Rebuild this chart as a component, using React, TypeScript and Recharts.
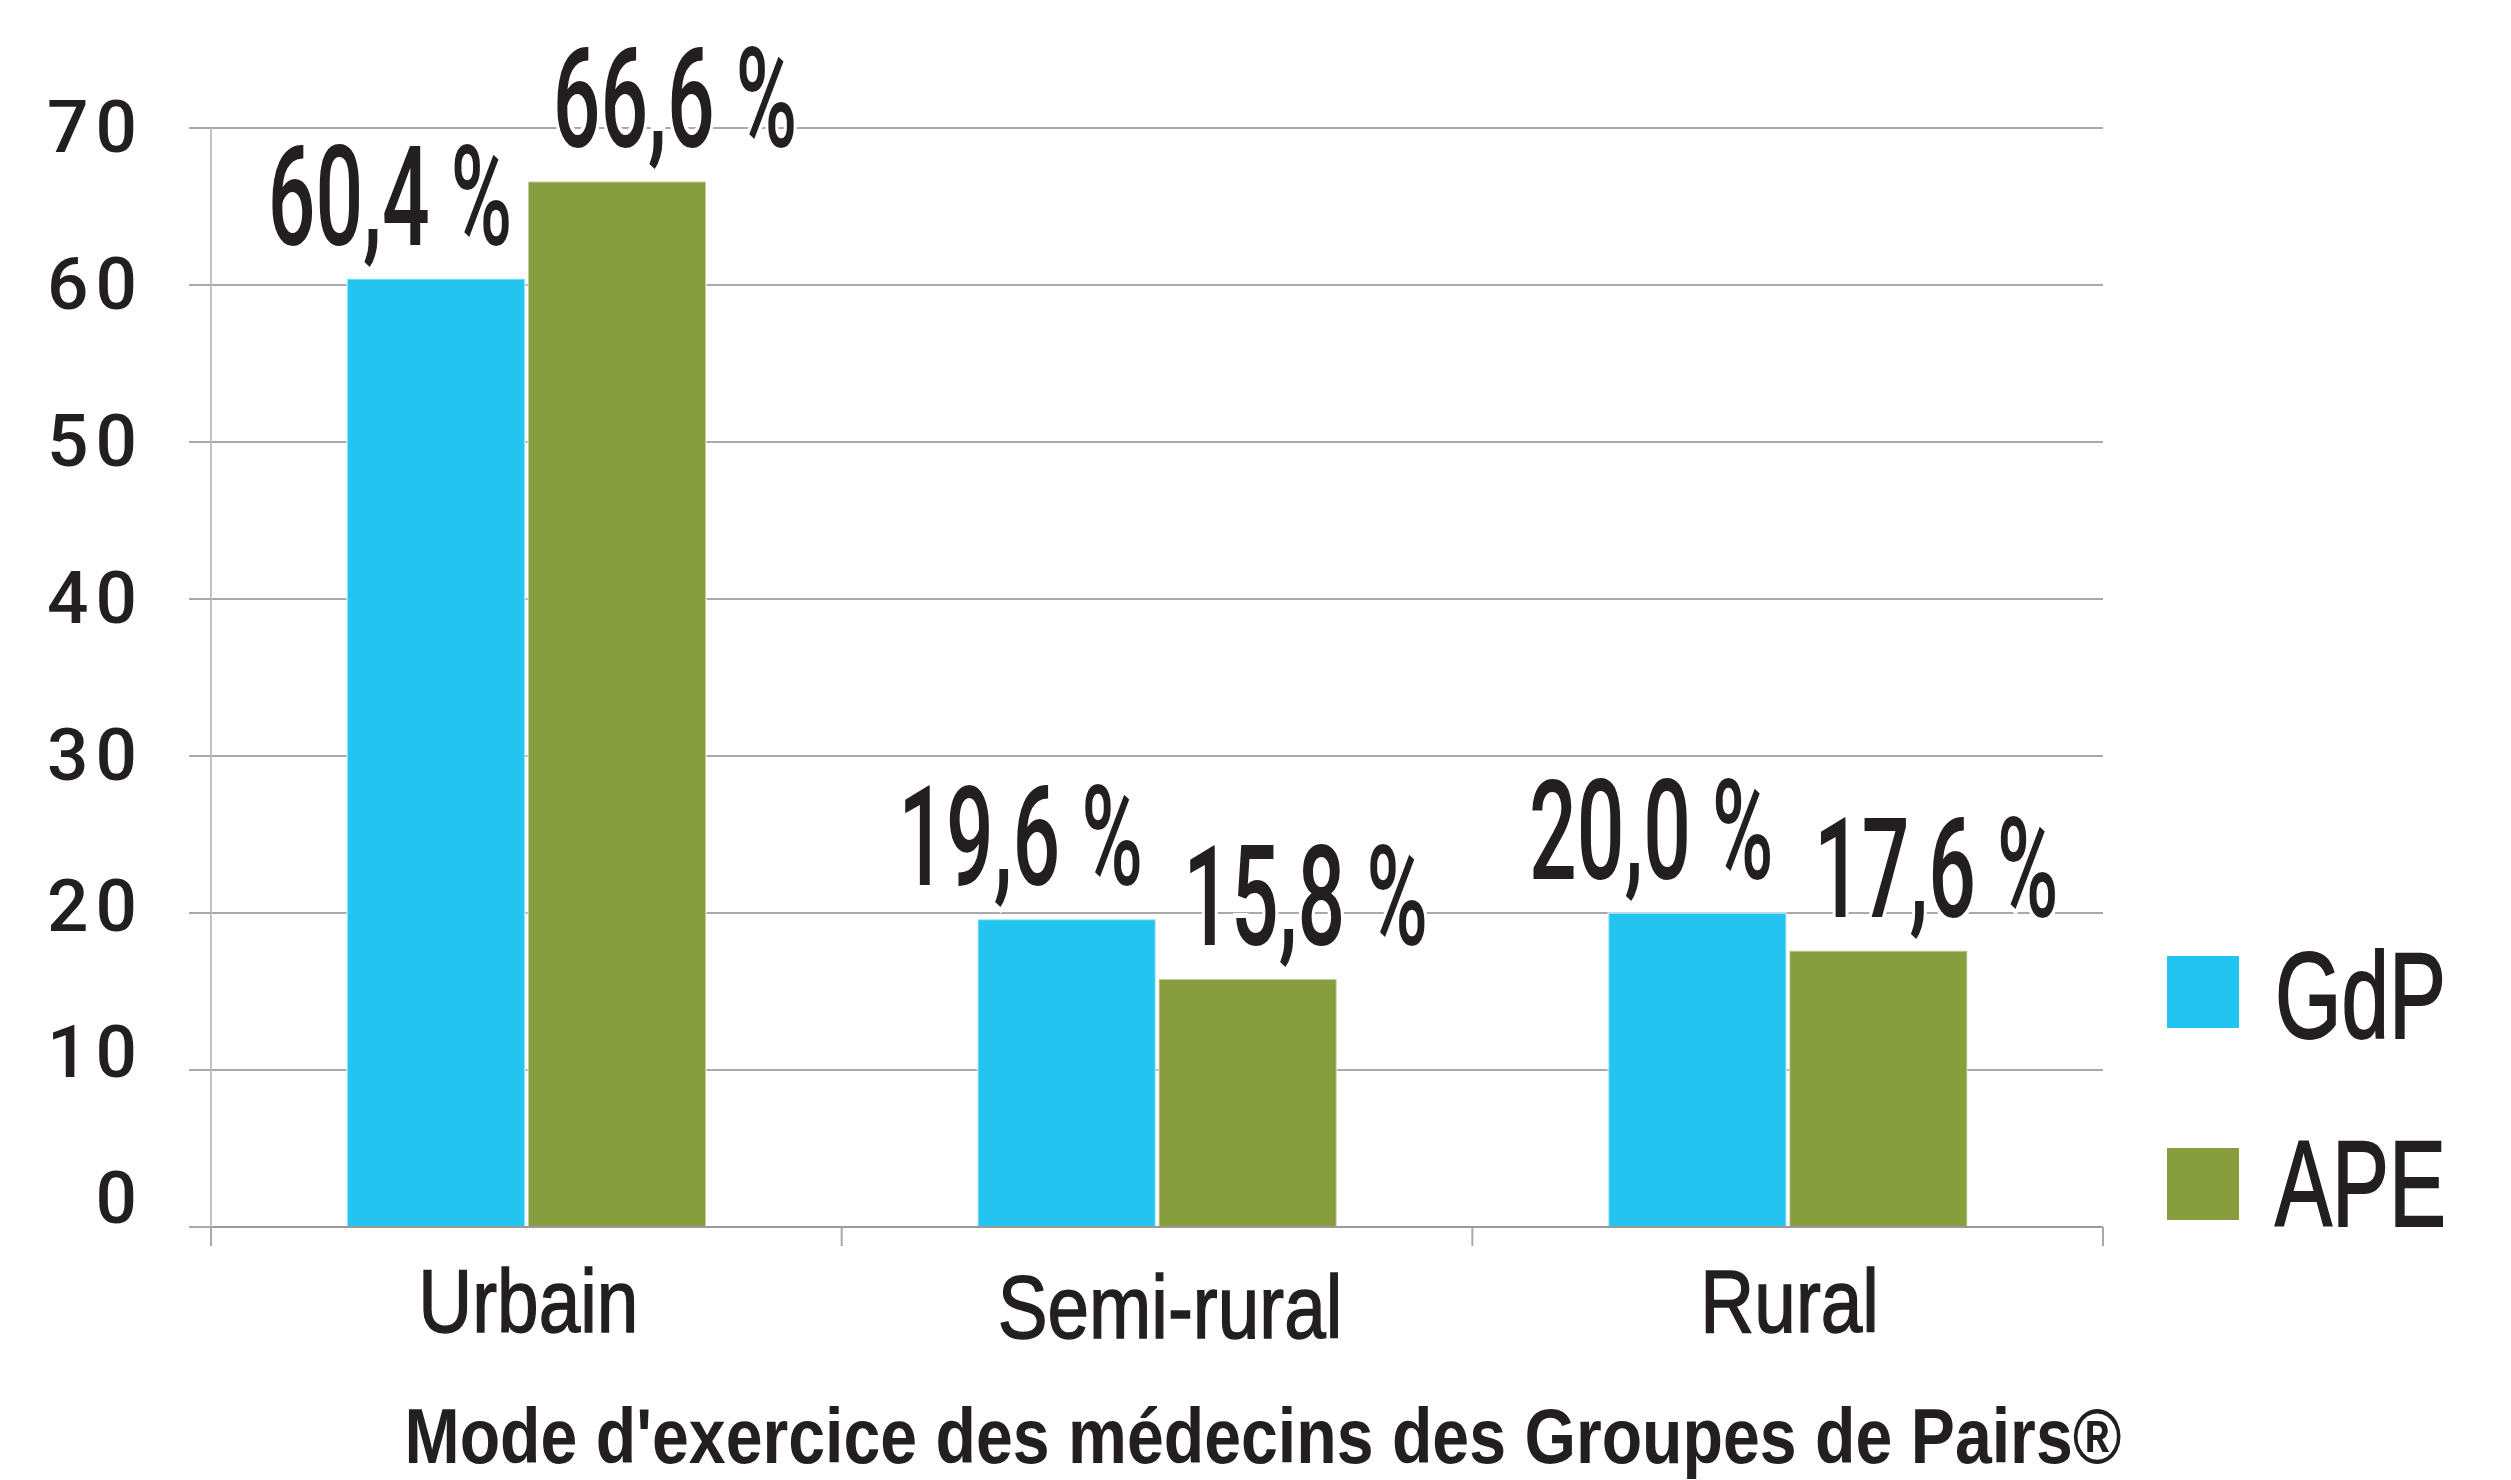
import React from 'react';
import { BarChart, Bar, XAxis, YAxis, CartesianGrid, Legend, LabelList, Label } from 'recharts';

const categories = ['Urbain', 'Semi-rural', 'Rural'];
const gdpValues = [60.4, 19.6, 20.0];
const apeValues = [66.6, 15.8, 17.6];
const yTicks = [0, 10, 20, 30, 40, 50, 60, 70];
const seriesNames = ['GdP', 'APE'];
const title = "Mode d'exercice des médecins des Groupes de Pairs®";

const data = categories.map((mode, i) => ({ mode, gdp: gdpValues[i], ape: apeValues[i] }));

// layout, in page pixels
const W = 2511;
const H = 1480;
const PLOT_LEFT = 211;
const PLOT_RIGHT = 2103;
const PLOT_TOP = 128;
const PLOT_BOTTOM = 1227;
const Y_AXIS_W = 150;
const X_AXIS_H = 200;
const BAND = (PLOT_RIGHT - PLOT_LEFT) / categories.length;

const INK = '#231f20';
const CYAN = '#23c4f0';
const GREEN = '#879d3e';
const GRID = '#a9a9a9';
const SANS = "'Liberation Sans', Arial, sans-serif";

const fmt = (v: number) => v.toFixed(1).replace('.', ',') + ' %';

// the original uses a very condensed face, so the labels are squeezed horizontally
const valueLabel = (shift: number) => (props: any) => {
  const { x, y, width, value } = props;
  const cx = Number(x) + Number(width) / 2 + shift;
  const by = Number(y) - 34;
  return (
    <text
      x={0}
      y={0}
      transform={`translate(${cx},${by}) scale(0.6,1)`}
      textAnchor="middle"
      fontFamily="Roboto, sans-serif"
      fontWeight={500}
      fontSize={140}
      fill={INK}
      stroke="#fff"
      strokeWidth={10}
      paintOrder="stroke"
    >
      {fmt(Number(value))}
    </text>
  );
};

// the lower tick labels sit a little above their gridlines in the original
const tickNudge: Record<number, number> = { 0: -30, 10: -19, 20: -8 };

const YTick = (props: any) => {
  const { x, y, payload } = props;
  const nudge = tickNudge[payload.value] ?? -2;
  return (
    <text x={x} y={y + nudge} dy="0.36em" textAnchor="end" fontFamily="Roboto, sans-serif" fontWeight={500} fontSize={73} fill={INK} letterSpacing={7}>
      {payload.value}
    </text>
  );
};

const XTick = (props: any) => {
  const { x, y, payload, index } = props;
  const left = x - BAND / 2;
  const right = x + BAND / 2;
  const ty = y + (index === 1 ? 111 : 105);
  const tx = x + (index === 1 ? 13 : 2);
  return (
    <g>
      <line x1={left} y1={y} x2={left} y2={y + 19} stroke={GRID} strokeWidth={2} />
      {index === categories.length - 1 && <line x1={right} y1={y} x2={right} y2={y + 19} stroke={GRID} strokeWidth={2} />}
      <text x={0} y={0} transform={`translate(${tx},${ty}) scale(0.84,1)`} textAnchor="middle" fontFamily={SANS} fontSize={89} fill={INK} stroke={INK} strokeWidth={1.5}>
        {payload.value}
      </text>
    </g>
  );
};

const LegendBox = (props: any) => {
  const items = [...(props.payload || [])].sort(
    (a: any, b: any) => seriesNames.indexOf(a.value) - seriesNames.indexOf(b.value)
  );
  return (
    <svg width={371} height={320}>
      {items.map((it: any, i: number) => (
        <g key={it.value}>
          <rect x={27} y={26 + i * 192} width={72} height={72} fill={it.color} />
          <text x={0} y={0} transform={`translate(135,${108 + i * 188}) scale(0.695,1)`} fontFamily={SANS} fontSize={123} fill={INK} stroke={INK} strokeWidth={2}>
            {it.value}
          </text>
        </g>
      ))}
    </svg>
  );
};

const TitleLabel = (props: any) => {
  const vb = props.viewBox;
  return (
    <text
      x={vb.x + vb.width / 2 + 106}
      y={vb.y + 236}
      textAnchor="middle"
      fontFamily={SANS}
      fontWeight="bold"
      fontSize={78}
      fill={INK}
      textLength={1717}
      lengthAdjust="spacingAndGlyphs"
    >
      {title}
    </text>
  );
};

export default function App() {
  return (
    <div style={{ width: W, height: H, background: '#fff' }}>
      <style>{'body{margin:0}'}</style>
      <BarChart
        width={W}
        height={H}
        data={data}
        margin={{ top: PLOT_TOP, right: W - PLOT_RIGHT, left: PLOT_LEFT - Y_AXIS_W, bottom: H - PLOT_BOTTOM - X_AXIS_H }}
        barSize={178}
        barGap={3}
      >
        <CartesianGrid vertical={false} stroke={GRID} strokeWidth={2} />
        <XAxis
          dataKey="mode"
          height={X_AXIS_H}
          tickLine={false}
          tickSize={0}
          tickMargin={0}
          axisLine={{ stroke: '#9a9a9a', strokeWidth: 2 }}
          tick={<XTick />}
          interval={0}
        >
          <Label content={<TitleLabel />} />
        </XAxis>
        <YAxis
          width={Y_AXIS_W}
          domain={[0, 70]}
          ticks={yTicks}
          interval={0}
          tickSize={22}
          tickMargin={45}
          tickLine={{ stroke: GRID, strokeWidth: 2 }}
          axisLine={{ stroke: '#c4c4c4', strokeWidth: 2 }}
          tick={<YTick />}
        />
        <Legend
          layout="vertical"
          align="center"
          verticalAlign="middle"
          wrapperStyle={{ left: 2140, top: 930, width: 371 }}
          content={<LegendBox />}
        />
        <Bar dataKey="gdp" name="GdP" fill={CYAN} stroke="rgba(255,255,255,0.5)" strokeWidth={2} isAnimationActive={false}>
          <LabelList dataKey="gdp" content={valueLabel(-46)} />
        </Bar>
        <Bar dataKey="ape" name="APE" fill={GREEN} stroke="rgba(255,255,255,0.5)" strokeWidth={2} isAnimationActive={false}>
          <LabelList dataKey="ape" content={valueLabel(58)} />
        </Bar>
      </BarChart>
    </div>
  );
}
